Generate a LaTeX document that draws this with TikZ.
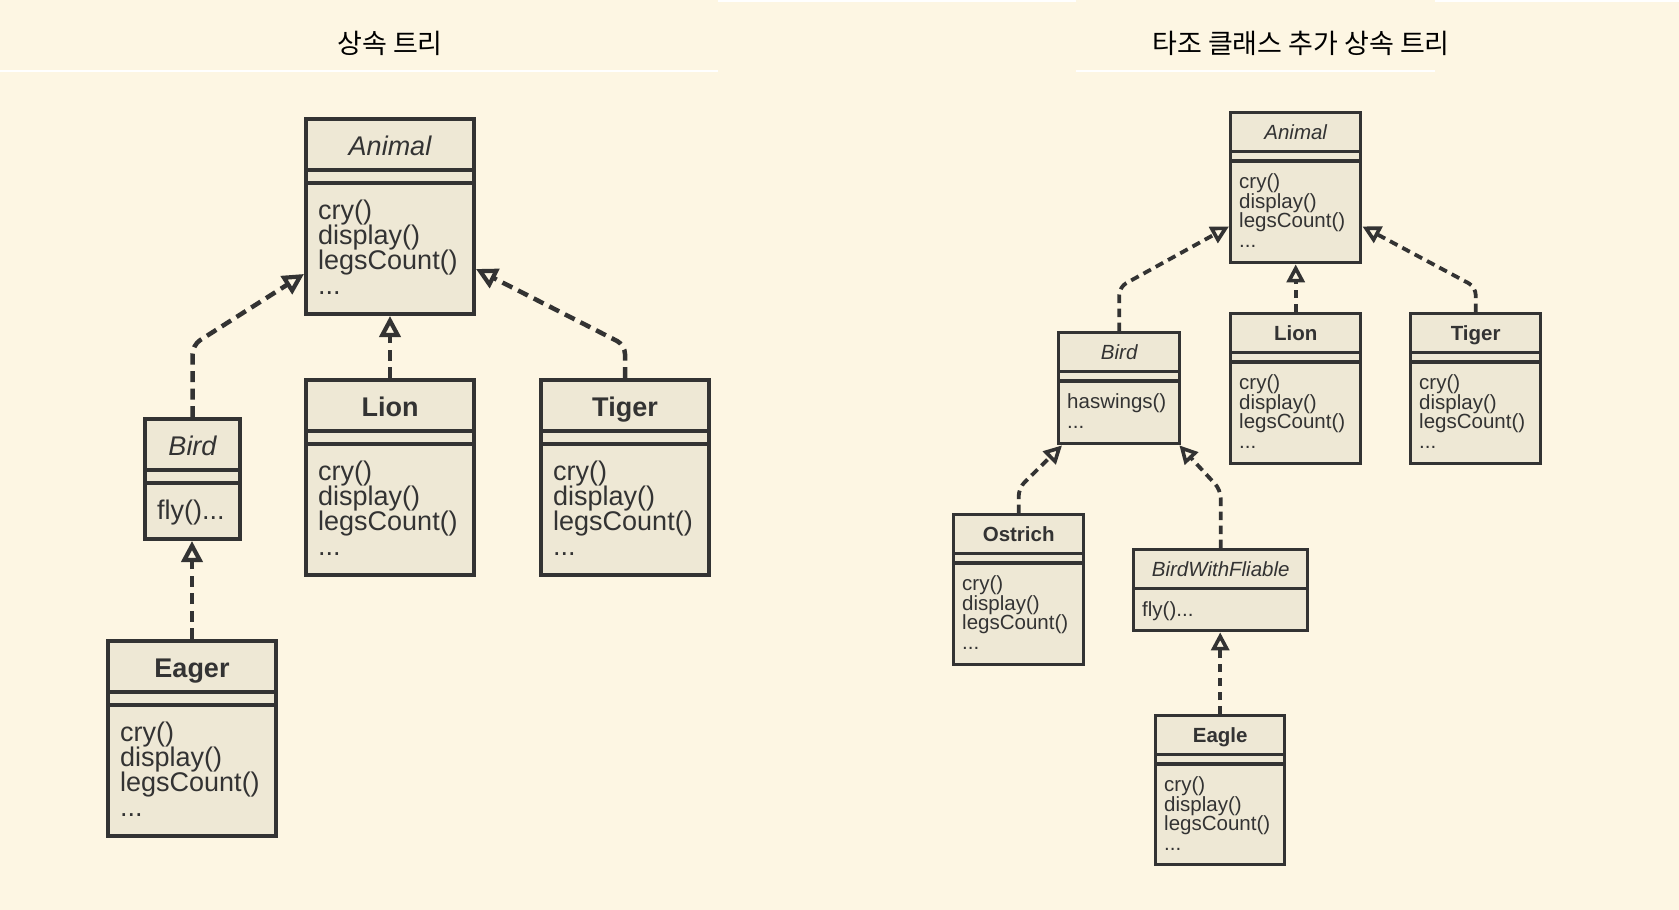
\documentclass[tikz,border=0pt]{standalone}
\usepackage{fontspec}
\setmainfont{Liberation Sans}
\newfontfamily\kr{Noto Sans CJK KR}
\usetikzlibrary{arrows.meta,calc}
\definecolor{bg}{HTML}{FDF6E3}
\definecolor{boxfill}{HTML}{EEE8D5}
\definecolor{ink}{HTML}{333333}
\newcommand\fontLx{\fontsize{27}{25}\selectfont}
\newcommand\fontRx{\fontsize{20.5}{19.5}\selectfont}
\tikzset{
  boxL/.style={draw=ink, fill=boxfill, line width=4pt, rectangle, inner sep=0pt},
  boxR/.style={draw=ink, fill=boxfill, line width=3.4pt, rectangle, inner sep=0pt},
  sepL/.style={draw=ink, line width=4pt},
  sepR/.style={draw=ink, line width=3.2pt},
  titleL/.style={anchor=base, inner sep=0pt, text=ink, font=\fontLx},
  titleR/.style={anchor=base, inner sep=0pt, text=ink, font=\fontRx},
  bodyL/.style={anchor=north west, inner sep=0pt, align=left, text=ink, font=\fontLx},
  bodyR/.style={anchor=north west, inner sep=0pt, align=left, text=ink, font=\fontRx},
  depL/.style={draw=ink, line width=4.5pt, dash pattern=on 11pt off 6.5pt, rounded corners=9pt,
    -{Triangle[open, length=21pt, width=21pt, line width=4.2pt]}},
  depR/.style={draw=ink, line width=3.8pt, dash pattern=on 8.5pt off 5.5pt, rounded corners=8pt,
    -{Triangle[open, length=18pt, width=18pt, line width=3.6pt]}},
  hdr/.style={anchor=center, inner sep=0pt, text=black, font=\kr\fontsize{27}{28}\selectfont},
}
% left-panel class: name, x, y, w, h, title, body
\newcommand\clsL[7]{%
  \node[boxL, minimum width=#4pt, minimum height=#5pt, anchor=north west] (#1) at (#2,#3) {};
  \draw[sepL] ($(#1.north west)+(0,53)$) -- ($(#1.north east)+(0,53)$);
  \draw[sepL] ($(#1.north west)+(0,66)$) -- ($(#1.north east)+(0,66)$);
  \node[titleL] (#1-t) at ($(#1.north)+(0,38)$) {#6};
  \node[bodyL] (#1-b) at ($(#1.north west)+(14,82.7)$) {#7};
}
% right-panel class: name, x, y, w, h, title, body
\newcommand\clsR[7]{%
  \node[boxR, minimum width=#4pt, minimum height=#5pt, anchor=north west] (#1) at (#2,#3) {};
  \draw[sepR] ($(#1.north west)+(0,40.5)$) -- ($(#1.north east)+(0,40.5)$);
  \draw[sepR] ($(#1.north west)+(0,50)$) -- ($(#1.north east)+(0,50)$);
  \node[titleR] (#1-t) at ($(#1.north)+(0,28)$) {#6};
  \node[bodyR] (#1-b) at ($(#1.north west)+(10,62.8)$) {#7};
}
\begin{document}
\lineskiplimit=-30pt
\begin{tikzpicture}[x=1pt,y=-1pt]
\useasboundingbox (0,0) rectangle (1679,910);
\fill[bg] (0,0) rectangle (1679,910);
% faint panel header rules
\draw[white, line width=1.5pt] (0,71) -- (718,71);
\draw[white, line width=1.5pt] (1076,71) -- (1435,71);
\draw[white, line width=1.5pt] (718,0.8) -- (1076,0.8);
\draw[white, line width=1.5pt] (1435,0.8) -- (1679,0.8);

\node[hdr] (hL) at (390,43) {상속 트리};
\node[hdr] (hR) at (1301,43) {타조 클래스 추가 상속 트리};

% ---------- left panel ----------
\clsL{animalL}{304}{117}{168}{195}{\itshape Animal}{cry()\\display()\\legsCount()\\...}
\clsL{lionL}{304}{378}{168}{195}{\bfseries Lion}{cry()\\display()\\legsCount()\\...}
\clsL{tigerL}{539}{378}{168}{195}{\bfseries Tiger}{cry()\\display()\\legsCount()\\...}
\clsL{birdL}{143}{417}{95}{120}{\itshape Bird}{fly()...}
\clsL{eagerL}{106}{639}{168}{195}{\bfseries Eager}{cry()\\display()\\legsCount()\\...}

\draw[depL] (birdL.north) -- (birdL.north |- 0,345) -- ($(animalL.south west)+(0,-42)$);
\draw[depL] (lionL.north) -- (animalL.south);
\draw[depL] (tigerL.north) -- (tigerL.north |- 0,345) -- ($(animalL.south east)+(0,-47)$);
\draw[depL] (eagerL.north) -- (eagerL.north |- birdL.south);

% ---------- right panel ----------
\clsR{animalR}{1229}{111}{130}{150}{\itshape Animal}{cry()\\display()\\legsCount()\\...}
\clsR{lionR}{1229}{312}{130}{150}{\bfseries Lion}{cry()\\display()\\legsCount()\\...}
\clsR{tigerR}{1409}{312}{130}{150}{\bfseries Tiger}{cry()\\display()\\legsCount()\\...}
\clsR{birdR}{1057}{331}{121}{111}{\itshape Bird}{haswings()\\...}
\clsR{ostrichR}{952}{513}{130}{150}{\bfseries Ostrich}{cry()\\display()\\legsCount()\\...}
\clsR{eagleR}{1154}{714}{129}{149}{\bfseries Eagle}{cry()\\display()\\legsCount()\\...}
% BirdWithFliable: single separator
\node[boxR, minimum width=174pt, minimum height=81pt, anchor=north west] (bwfR) at (1132,548) {};
\draw[sepR] ($(bwfR.north west)+(0,40.5)$) -- ($(bwfR.north east)+(0,40.5)$);
\node[titleR] (bwfR-t) at ($(bwfR.north)+(0,28)$) {\itshape BirdWithFliable};
\node[bodyR] (bwfR-b) at ($(bwfR.north west)+(10,53)$) {fly()...};

\draw[depR] (birdR.north) -- (birdR.north |- 0,287) -- ($(animalR.south west)+(0,-38)$);
\draw[depR] (lionR.north) -- (animalR.south);
\draw[depR] (tigerR.north) -- (tigerR.north |- 0,287) -- ($(animalR.south east)+(0,-38)$);
\draw[depR] (ostrichR.north) -- (ostrichR.north |- 0,488) -- ($(birdR.south west)+(5,0)$);
\draw[depR] (bwfR.north) -- (bwfR.north |- 0,490) -- ($(birdR.south east)+(-2,0)$);
\draw[depR] (eagleR.north) -- (eagleR.north |- bwfR.south);
\end{tikzpicture}
\end{document}
